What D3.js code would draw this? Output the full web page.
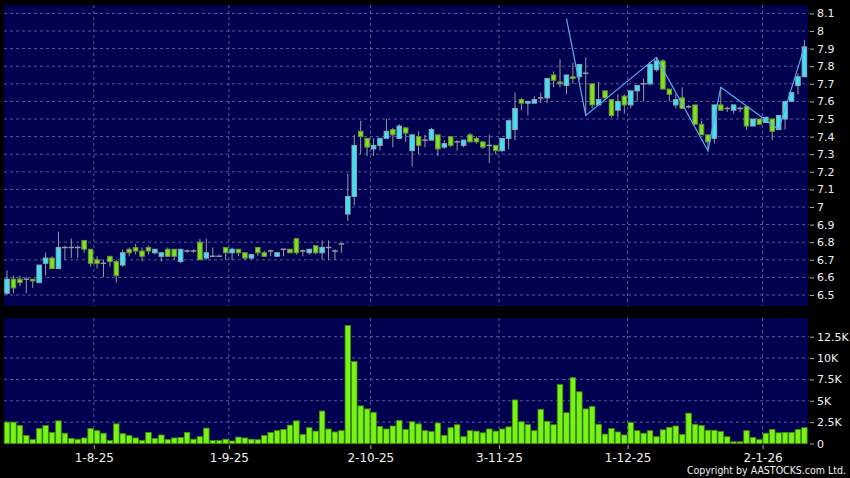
<!DOCTYPE html>
<html>
<head>
<meta charset="utf-8">
<script src="https://cdn.jsdelivr.net/npm/d3@7"></script>
<style>
	body { margin: 0; background: #000; }
	svg { display: block; }
</style>
</head>
<body>
<div id="chart"></div>
<script>
// Daily candles, 14-7-25 to 12-1-26 (one entry per trading day)
let open = [6.51, 6.59, 6.59, 6.59, 6.59, 6.57, 6.68, 6.71, 6.65, 6.77,
	6.77, 6.77, 6.81, 6.76, 6.70, 6.68, 6.72, 6.69, 6.67, 6.76,
	6.77, 6.75, 6.77, 6.74, 6.72, 6.76, 6.76, 6.69, 6.75, 6.75,
	6.80, 6.71, 6.72, 6.72, 6.77, 6.74, 6.76, 6.74, 6.71, 6.77,
	6.74, 6.75, 6.72, 6.76, 6.76, 6.82, 6.75, 6.74, 6.78, 6.74,
	6.77, 6.75, 6.79, 6.96, 7.06, 7.43, 7.39, 7.33, 7.35, 7.39,
	7.44, 7.39, 7.45, 7.32, 7.40, 7.38, 7.38, 7.41, 7.34, 7.40,
	7.37, 7.35, 7.41, 7.39, 7.37, 7.35, 7.35, 7.32, 7.39, 7.44,
	7.61, 7.59, 7.59, 7.62, 7.62, 7.75, 7.71, 7.69, 7.74, 7.74,
	7.76, 7.70, 7.58, 7.66, 7.61, 7.55, 7.63, 7.58, 7.66, 7.70,
	7.70, 7.78, 7.83, 7.67, 7.58, 7.62, 7.57, 7.58, 7.47, 7.41,
	7.39, 7.58, 7.56, 7.55, 7.56, 7.57, 7.46, 7.50, 7.48, 7.50,
	7.44, 7.50, 7.60, 7.69, 7.74];
let high = [6.64, 6.61, 6.61, 6.60, 6.59, 6.67, 6.74, 6.72, 6.86, 6.78,
	6.82, 6.78, 6.81, 6.76, 6.72, 6.70, 6.72, 6.70, 6.76, 6.77,
	6.79, 6.77, 6.78, 6.76, 6.74, 6.77, 6.76, 6.76, 6.76, 6.76,
	6.82, 6.82, 6.77, 6.73, 6.77, 6.77, 6.76, 6.74, 6.73, 6.77,
	6.75, 6.76, 6.74, 6.76, 6.76, 6.82, 6.76, 6.76, 6.78, 6.81,
	6.81, 6.76, 6.79, 7.19, 7.41, 7.49, 7.39, 7.39, 7.39, 7.50,
	7.45, 7.47, 7.45, 7.41, 7.43, 7.41, 7.45, 7.41, 7.38, 7.40,
	7.38, 7.38, 7.42, 7.40, 7.37, 7.41, 7.35, 7.39, 7.49, 7.65,
	7.62, 7.60, 7.63, 7.65, 7.73, 7.77, 7.84, 7.75, 7.82, 7.81,
	7.85, 7.70, 7.71, 7.66, 7.61, 7.64, 7.64, 7.66, 7.69, 7.73,
	7.82, 7.85, 7.84, 7.67, 7.64, 7.68, 7.58, 7.58, 7.49, 7.41,
	7.58, 7.68, 7.57, 7.58, 7.57, 7.57, 7.50, 7.50, 7.51, 7.50,
	7.52, 7.60, 7.65, 7.76, 7.95];
let low = [6.50, 6.51, 6.55, 6.51, 6.54, 6.57, 6.61, 6.65, 6.65, 6.70,
	6.71, 6.71, 6.74, 6.66, 6.65, 6.60, 6.66, 6.57, 6.66, 6.72,
	6.73, 6.69, 6.73, 6.73, 6.69, 6.72, 6.70, 6.68, 6.74, 6.74,
	6.70, 6.70, 6.72, 6.72, 6.70, 6.70, 6.72, 6.70, 6.70, 6.72,
	6.72, 6.72, 6.72, 6.72, 6.74, 6.73, 6.72, 6.73, 6.73, 6.70,
	6.70, 6.70, 6.74, 6.92, 7.01, 7.30, 7.29, 7.29, 7.32, 7.39,
	7.34, 7.39, 7.37, 7.23, 7.30, 7.34, 7.38, 7.29, 7.33, 7.34,
	7.32, 7.34, 7.37, 7.36, 7.33, 7.25, 7.30, 7.31, 7.33, 7.38,
	7.55, 7.52, 7.59, 7.59, 7.59, 7.68, 7.68, 7.64, 7.70, 7.72,
	7.52, 7.56, 7.58, 7.61, 7.51, 7.51, 7.53, 7.56, 7.60, 7.60,
	7.69, 7.77, 7.67, 7.60, 7.56, 7.56, 7.56, 7.47, 7.41, 7.32,
	7.36, 7.55, 7.54, 7.53, 7.54, 7.44, 7.46, 7.47, 7.48, 7.38,
	7.44, 7.44, 7.60, 7.64, 7.74];
let close = [6.59, 6.54, 6.57, 6.59, 6.58, 6.67, 6.71, 6.65, 6.77, 6.77,
	6.77, 6.77, 6.76, 6.68, 6.68, 6.68, 6.69, 6.61, 6.74, 6.74,
	6.75, 6.72, 6.75, 6.76, 6.74, 6.72, 6.72, 6.76, 6.75, 6.75,
	6.70, 6.74, 6.72, 6.72, 6.74, 6.76, 6.74, 6.71, 6.73, 6.74,
	6.72, 6.75, 6.74, 6.76, 6.74, 6.74, 6.75, 6.76, 6.74, 6.77,
	6.77, 6.75, 6.79, 7.06, 7.35, 7.40, 7.34, 7.35, 7.39, 7.43,
	7.41, 7.46, 7.42, 7.41, 7.35, 7.38, 7.44, 7.33, 7.36, 7.35,
	7.37, 7.38, 7.37, 7.37, 7.34, 7.35, 7.32, 7.39, 7.49, 7.56,
	7.59, 7.60, 7.61, 7.62, 7.73, 7.72, 7.70, 7.75, 7.73, 7.81,
	7.76, 7.58, 7.61, 7.62, 7.52, 7.60, 7.58, 7.66, 7.69, 7.70,
	7.81, 7.83, 7.67, 7.64, 7.61, 7.56, 7.57, 7.47, 7.41, 7.37,
	7.58, 7.55, 7.56, 7.58, 7.56, 7.46, 7.50, 7.47, 7.51, 7.43,
	7.52, 7.60, 7.65, 7.74, 7.91];
// volume in thousands of shares
let volume = [2.5, 2.5, 2.1, 0.95, 0.45, 1.75, 2.1, 1.3, 2.65, 1.2,
	0.6, 0.5, 0.65, 1.75, 1.5, 1.2, 0.35, 2.3, 1.15, 0.95,
	0.65, 0.35, 1.3, 0.6, 1.0, 0.45, 0.65, 0.7, 1.3, 0.5,
	0.8, 1.8, 0.35, 0.35, 0.5, 0.3, 0.75, 0.65, 0.5, 0.45,
	0.95, 1.3, 1.5, 1.65, 2.15, 2.65, 1.05, 1.85, 1.45, 3.8,
	1.7, 1.35, 1.5, 13.8, 9.6, 4.4, 4.05, 3.65, 2.0, 1.7,
	2.05, 2.7, 1.65, 2.55, 2.3, 1.5, 1.4, 2.4, 0.95, 1.85,
	2.2, 0.8, 1.5, 1.45, 1.25, 1.7, 1.45, 1.7, 1.95, 5.1,
	2.55, 2.2, 1.5, 4.0, 2.6, 2.2, 6.9, 3.6, 7.7, 6.05,
	4.05, 4.35, 2.25, 1.1, 1.75, 1.35, 1.0, 2.45, 1.5, 1.2,
	1.5, 0.8, 1.6, 1.9, 2.05, 1.05, 3.55, 2.25, 2.1, 1.55,
	1.55, 1.4, 0.8, 0.2, 0.2, 1.5, 0.7, 0.45, 1.2, 1.65,
	1.25, 1.3, 1.3, 1.65, 1.85];

let priceTicks = [6.5, 6.6, 6.7, 6.8, 6.9, 7, 7.1, 7.2, 7.3, 7.4, 7.5, 7.6, 7.7, 7.8, 7.9, 8, 8.1];
let volumeTicks = [0, 2.5, 5, 7.5, 10, 12.5];
let dateTicks = [14, 35, 57, 77, 97, 118];
let dateLabels = ['1-8-25', '1-9-25', '2-10-25', '3-11-25', '1-12-25', '2-1-26'];

// zigzag overlay (day index, price)
let zigzagDay = [87, 90, 101, 109, 111, 120, 124];
let zigzagPrice = [8.07, 7.52, 7.85, 7.32, 7.68, 7.44, 7.91];

// Set up SVG
let width = 850;
let height = 478;
let font = 'DejaVu Sans';

let svg = d3.select('#chart')
	.append('svg')
	.attr('width', width)
	.attr('height', height);

svg.append('rect')
	.attr('width', width)
	.attr('height', height)
	.attr('fill', '#000');

let days = d3.range(close.length);
let plotLeft = 3.8, plotRight = 807.6;

let x = d3.scaleBand()
	.domain(days)
	.range([plotLeft, plotRight])
	.paddingInner(0.14)
	.paddingOuter(0.07);
let xEdge = d3.scaleLinear().domain([0, days.length]).range([plotLeft, plotRight]);
let yPrice = d3.scaleLinear().domain([6.5, 8.1]).range([295, 13.4]);
let yVol = d3.scaleLinear().domain([0, 12.5]).range([443.5, 336.7]);

let mid = function(i){ return x(i) + x.bandwidth() / 2; };

// Panels
let panels = [[5, 306], [318, 444]];
for(let i = 0; i < panels.length; i++){
	svg.append('rect')
	   .attr('x', 4)
	   .attr('y', panels[i][0])
	   .attr('width', 804)
	   .attr('height', panels[i][1] - panels[i][0])
	   .attr('fill', '#000050');
}

// Grid lines
let gridColor = '#5b5b95';
svg.selectAll('.hgrid')
	.data(priceTicks)
	.enter()
	.append('line')
	.attr('x1', 4).attr('x2', 809)
	.attr('y1', d => yPrice(d)).attr('y2', d => yPrice(d))
	.attr('stroke', gridColor)
	.attr('stroke-dasharray', '3,3');

svg.selectAll('.vgridline')
	.data(volumeTicks.slice(1))
	.enter()
	.append('line')
	.attr('x1', 4).attr('x2', 809)
	.attr('y1', d => yVol(d)).attr('y2', d => yVol(d))
	.attr('stroke', gridColor)
	.attr('stroke-dasharray', '3,3');

for(let i = 0; i < panels.length; i++){
	svg.selectAll('.dgrid' + i)
		.data(dateTicks)
		.enter()
		.append('line')
		.attr('x1', d => xEdge(d)).attr('x2', d => xEdge(d))
		.attr('y1', panels[i][0]).attr('y2', panels[i][1])
		.attr('stroke', gridColor)
		.attr('stroke-dasharray', '3,3');
}

// Volume bars
svg.selectAll('.vol')
	.data(days)
	.enter()
	.append('rect')
	.attr('x', d => x(d))
	.attr('y', d => yVol(volume[d]))
	.attr('width', x.bandwidth())
	.attr('height', d => yVol(0) - yVol(volume[d]))
	.attr('fill', '#78f414')
	.attr('stroke', '#3f8c0c')
	.attr('stroke-width', 0.8);

// Candles
let candle = svg.selectAll('.candle')
	.data(days)
	.enter()
	.append('g');

candle.append('line')
	.attr('x1', d => mid(d)).attr('x2', d => mid(d))
	.attr('y1', d => yPrice(high[d])).attr('y2', d => yPrice(low[d]))
	.attr('stroke', '#9a9a9a');

candle.filter(d => open[d] !== close[d])
	.append('rect')
	.attr('x', d => x(d) + 0.5)
	.attr('y', d => yPrice(Math.max(open[d], close[d])))
	.attr('width', x.bandwidth() - 1)
	.attr('height', d => Math.max(1, Math.abs(yPrice(open[d]) - yPrice(close[d]))))
	.attr('fill', d => close[d] > open[d] ? '#3ee2f2' : '#7fe21e')
	.attr('stroke', d => close[d] > open[d] ? '#8fa9b4' : '#6c9438')
	.attr('stroke-width', 1);

candle.filter(d => open[d] === close[d])
	.append('line')
	.attr('x1', d => x(d)).attr('x2', d => x(d) + x.bandwidth())
	.attr('y1', d => yPrice(open[d])).attr('y2', d => yPrice(open[d]))
	.attr('stroke', '#9a9a9a')
	.attr('stroke-width', 1.5);

// Zigzag overlay
let zigzag = d3.line()
	.x((d, i) => mid(zigzagDay[i]))
	.y(d => yPrice(d));
svg.append('path')
	.attr('d', zigzag(zigzagPrice))
	.attr('fill', 'none')
	.attr('stroke', '#58acef')
	.attr('stroke-width', 1.2);

// Axes
function styleAxis(g){
	g.select('.domain').remove();
	g.selectAll('line').attr('stroke', '#aaa');
	g.selectAll('text')
	 .attr('fill', '#f0f0f0')
	 .attr('font-family', font);
}

svg.append('g')
	.attr('transform', 'translate(810,0)')
	.call(d3.axisRight(yPrice).tickValues(priceTicks).tickSize(4).tickPadding(3).tickFormat(d3.format('')))
	.attr('font-size', 11)
	.call(styleAxis);

svg.append('g')
	.attr('transform', 'translate(810,0)')
	.call(d3.axisRight(yVol).tickValues(volumeTicks).tickSize(4).tickPadding(3)
		.tickFormat(d => d === 0 ? '0' : d + 'K'))
	.attr('font-size', 11)
	.call(styleAxis);

svg.append('g')
	.attr('transform', 'translate(0,445)')
	.call(d3.axisBottom(xEdge).tickValues(dateTicks).tickSize(4).tickPadding(4.5)
		.tickFormat((d, i) => dateLabels[i]))
	.attr('font-size', 12)
	.call(styleAxis);

svg.append('text')
	.attr('x', 846)
	.attr('y', 474)
	.attr('text-anchor', 'end')
	.attr('font-family', 'DejaVu Sans Condensed')
	.attr('font-size', 10.5)
	.attr('fill', '#f0f0f0')
	.text('Copyright by AASTOCKS.com Ltd.');
</script>
</body>
</html>
